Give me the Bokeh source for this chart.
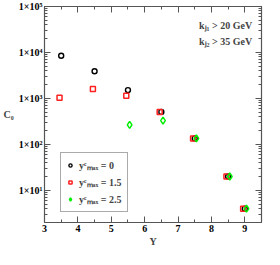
from bokeh.plotting import figure
from bokeh.models import (LogAxis, LinearAxis, FixedTicker, LogTicker, Legend, LegendItem, Label,
                          CustomJSTickFormatter)
from bokeh.embed import file_html
from bokeh.resources import INLINE

# ---- data ----
y_black = [3.5, 4.5, 5.5, 6.5, 7.5, 8.5, 9.0]
c_black = [8500, 3900, 1520, 510, 135, 20, 4]
y_red = [3.45, 4.45, 5.45, 6.45, 7.45, 8.45, 8.95]
c_red = [1030, 1600, 1150, 510, 135, 20, 4]
y_green = [5.55, 6.55, 7.55, 8.55, 9.05]
c_green = [265, 330, 135, 20, 4]

x_ticks = [3, 4, 5, 6, 7, 8, 9]
x_minor = [3.5, 4.5, 5.5, 6.5, 7.5, 8.5, 9.5]
y_ticks = [10, 100, 1000, 10000, 100000]
y_tick_labels = ["1×10¹", "1×10²", "1×10³", "1×10⁴", "1×10⁵"]
legend_labels = ["yᶜₘₐₓ = 0", "yᶜₘₐₓ = 1.5", "yᶜₘₐₓ = 2.5"]
cut_texts = ["kⱼ₁ > 20 GeV", "kⱼ₂ > 35 GeV"]
cut_pos_x = [9.22, 9.22]
cut_pos_y = [39000, 17000]

FONT = "Liberation Serif"

p = figure(width=264, height=249, y_axis_type="log",
           x_range=(3, 9.5), y_range=(2, 1e5),
           output_backend="svg", toolbar_location=None,
           min_border_left=33, min_border_right=3, min_border_top=6, min_border_bottom=21)
p.grid.visible = False
p.outline_line_color = None
p.background_fill_color = "white"

def style_axis(ax):
    ax.major_tick_in = 6
    ax.major_tick_out = 0
    ax.minor_tick_in = 3
    ax.minor_tick_out = 0
    ax.axis_line_color = "#555555"
    ax.major_tick_line_color = "#555555"
    ax.minor_tick_line_color = "#555555"
    ax.axis_line_width = 1.2
    ax.major_label_text_font = FONT
    ax.major_label_text_font_style = "bold"
    ax.major_label_text_font_size = "10px"
    ax.major_label_text_color = "black"
    ax.major_label_standoff = 2

# bottom x axis
xa = p.xaxis[0]
xa.ticker = FixedTicker(ticks=x_ticks, minor_ticks=x_minor)
style_axis(xa)
xa.axis_label = "Y"
xa.axis_label_text_font = FONT
xa.axis_label_text_font_style = "bold"
xa.axis_label_text_font_size = "10px"
xa.axis_label_standoff = 1

# left y axis
ya = p.yaxis[0]
ya.ticker = LogTicker(num_minor_ticks=10)
ya.major_label_overrides = {t: l for t, l in zip(y_ticks, y_tick_labels)}
style_axis(ya)
ya.axis_label = "C₀"
ya.axis_label_orientation = "horizontal"
ya.axis_label_text_font = FONT
ya.axis_label_text_font_style = "bold"
ya.axis_label_text_font_size = "10px"
ya.axis_label_standoff = 2

# mirror axes (no labels)
top = LinearAxis(ticker=FixedTicker(ticks=x_ticks, minor_ticks=x_minor),
                 formatter=CustomJSTickFormatter(code="return '';"))
style_axis(top)
top.major_label_standoff = 0
p.add_layout(top, "above")
right = LogAxis(ticker=LogTicker(num_minor_ticks=10),
                formatter=CustomJSTickFormatter(code="return '';"))
style_axis(right)
right.major_label_standoff = 0
p.add_layout(right, "right")

r_black = p.scatter(y_black, c_black, marker="circle", size=5, fill_color=None,
                    line_color="black", line_width=1.4)
r_red = p.scatter(y_red, c_red, marker="square", size=5, fill_color=None,
                  line_color="#ff2020", line_width=1.5)
r_green = p.scatter(y_green, c_green, marker="diamond", size=7, fill_color=None,
                    line_color="#00ee00", line_width=1.5)

legend = Legend(items=[LegendItem(label=legend_labels[0], renderers=[r_black]),
                       LegendItem(label=legend_labels[1], renderers=[r_red]),
                       LegendItem(label=legend_labels[2], renderers=[r_green])],
                location=(16, 10))
legend.label_text_font = FONT
legend.label_text_font_style = "bold"
legend.label_text_font_size = "10px"
legend.glyph_width = 8
legend.glyph_height = 14
legend.label_height = 14
legend.label_standoff = 5
legend.spacing = 3
legend.padding = 5
legend.margin = 0
legend.border_line_color = "#555555"
legend.border_line_width = 1.2
legend.background_fill_alpha = 1
p.add_layout(legend, "center")

for t, lx, ly in zip(cut_texts, cut_pos_x, cut_pos_y):
    p.add_layout(Label(x=lx, y=ly, text=t, text_align="right", text_baseline="middle",
                       text_font=FONT, text_font_style="bold", text_font_size="10px"))

open("out.html", "w").write(file_html(p, INLINE))
